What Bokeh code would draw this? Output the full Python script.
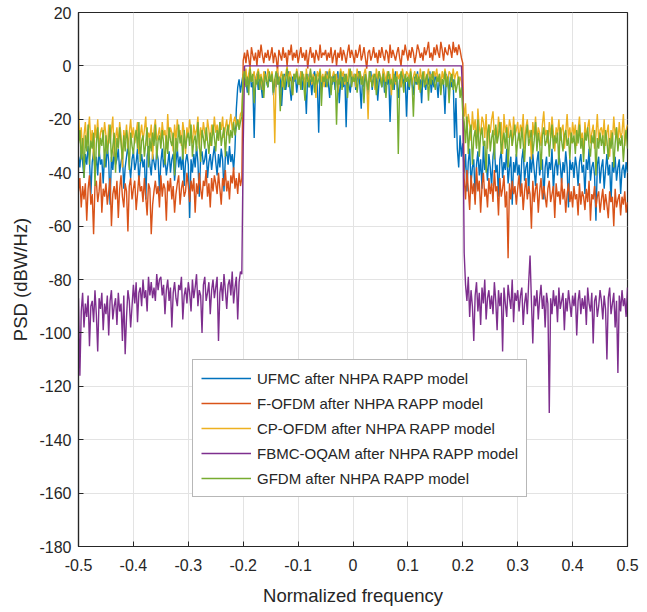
import numpy as np
from bokeh.plotting import figure
from bokeh.models import Range1d, FixedTicker, Legend, LegendItem
from bokeh.embed import file_html
from bokeh.resources import INLINE

# ---------------- data ----------------
# frequency grid: step 0.0025 -> 120 points left of the band, 161 in band, 120 right
freq = np.round(np.linspace(-0.5, 0.5, 401), 5)

x_ticks = [-0.5, -0.4, -0.3, -0.2, -0.1, 0, 0.1, 0.2, 0.3, 0.4, 0.5]
x_tick_labels = ["-0.5", "-0.4", "-0.3", "-0.2", "-0.1", "0", "0.1", "0.2", "0.3", "0.4", "0.5"]
y_ticks = [-180, -160, -140, -120, -100, -80, -60, -40, -20, 0, 20]
y_tick_labels = ["-180", "-160", "-140", "-120", "-100", "-80", "-60", "-40", "-20", "0", "20"]

series_names = [
    "UFMC after NHPA RAPP model",
    "F-OFDM after NHPA RAPP model",
    "CP-OFDM after NHPA RAPP model",
    "FBMC-OQAM after NHPA RAPP model",
    "GFDM after NHPA RAPP model",
]
series_colors = ["#0072BD", "#D95319", "#EDB120", "#7E2F8E", "#77AC30"]

# ---- UFMC (dB) ----
ufmc_left = [
    -34, -38, -31, -36, -42,  -33, -37, -30, -35, -48,  -36, -32, -39, -34, -41,  -31, -37, -35, -44, -33,
    -38, -30, -36, -52, -34,  -39, -32, -37, -35, -31,  -40, -36, -33, -46, -38,  -34, -30, -37, -42, -35,
    -32, -39, -36, -31, -44,  -37, -33, -38, -35, -50,  -34, -30, -37, -41, -33,  -36, -39, -32, -35, -47,
    -36, -31, -38, -34, -41,  -37, -32, -40, -35, -33,  -43, -36, -31, -38, -34,  -39, -32, -45, -36, -33,
    -37, -57, -35, -40, -33,  -38, -30, -36, -49, -34,  -32, -37, -35, -31, -42,  -36, -33, -39, -34, -30,
    -36, -41, -33, -38, -31,  -35, -47, -34, -32, -37,  -30, -36, -33, -39, -31,  -16, -8, -5, -10, -6,
]
ufmc_band = [
    -3, -7, -5, -10, -4,  -2, -8, -6, -27, -5,  -3, -9, -4, -7, -12,  -5, -2, -6, -8, -4,
    -6, -3, -11, -5, -8,  -2, -7, -4, -15, -6,  -3, -9, -5, -2, -8,  -13, -4, -6, -3, -10,
    -5, -7, -2, -9, -4,  -6, -18, -3, -8, -5,  -11, -4, -2, -7, -6,  -25, -3, -9, -5, -4,
    -8, -2, -6, -12, -4,  -7, -3, -9, -5, -2,  -14, -6, -4, -8, -3,  -23, -5, -7, -10, -4,
    -6, -3, -9, -5, -2,  -7, -16, -4, -8, -3,  -6, -11, -5, -2, -9,  -4, -7, -3, -13, -6,
    -4, -8, -2, -10, -5,  -7, -3, -21, -6, -4,  -9, -2, -6, -12, -5,  -8, -3, -7, -4, -19,
    -5, -9, -3, -6, -11,  -4, -7, -2, -8, -5,  -14, -3, -6, -9, -4,  -7, -2, -10, -5, -8,
    -3, -6, -12, -4, -9,  -5, -7, -18, -3, -6,  -10, -4, -8, -5, -27,  -12, -31, -38, -26, -34,
    -29,
]
ufmc_right = [
    -40, -33, -47, -36, -31,  -44, -38, -35, -50, -37,  -32, -41, -35, -46, -30,  -39, -36, -43, -33, -38,
    -45, -34, -30, -40, -37,  -49, -35, -32, -42, -36,  -39, -31, -44, -38, -34,  -52, -36, -40, -33, -41,
    -37, -46, -35, -31, -43,  -38, -36, -48, -34, -40,  -33, -39, -45, -36, -32,  -41, -37, -35, -50, -38,
    -34, -42, -36, -39, -31,  -47, -38, -35, -41, -33,  -37, -44, -36, -40, -32,  -38, -53, -35, -39, -36,
    -42, -34, -38, -45, -36,  -33, -40, -37, -48, -35,  -39, -31, -43, -38, -36,  -41, -58, -37, -34, -44,
    -38, -35, -46, -39, -33,  -41, -37, -51, -36, -40,  -34, -43, -38, -35, -48,  -39, -37, -42, -36, -40,
]

# ---- F-OFDM (dB) ----
fofdm_left = [
    -47, -42, -53, -45, -50,  -44, -58, -46, -41, -52,  -48, -63, -45, -43, -51,  -47, -40, -55, -46, -49,
    -44, -52, -47, -42, -60,  -48, -45, -50, -43, -57,  -46, -41, -49, -53, -44,  -47, -62, -45, -42, -50,
    -46, -43, -54, -48, -41,  -47, -45, -51, -42, -49,  -56, -44, -46, -63, -52,  -47, -43, -48, -45, -53,
    -41, -49, -44, -46, -58,  -43, -47, -42, -50, -45,  -55, -48, -44, -41, -52,  -46, -43, -49, -47, -40,
    -45, -51, -43, -47, -42,  -55, -44, -48, -40, -46,  -50, -43, -45, -39, -49,  -44, -53, -42, -47, -41,
    -44, -48, -40, -46, -52,  -42, -45, -39, -47, -43,  -50, -41, -44, -38, -46,  -42, -48, -40, -45, -42,
]
fofdm_band = [
    2, 5, 1, 6, 3,  -1, 7, 4, 2, 5,  0, 6, 3, 8, 4,  1, 5, 3, 6, 2,
    4, 7, 1, 5, 3,  -2, 6, 4, 2, 7,  3, 5, 0, 6, 4,  8, 2, 5, 3, 6,
    1, 4, 7, 3, 5,  2, 6, -1, 4, 7,  3, 5, 1, 6, 4,  2, 8, 3, 5, 4,
    6, 2, 5, 3, 7,  1, 4, 6, 0, 5,  3, 7, 2, 6, 4,  1, 5, 8, 3, 6,
    4, 1, 6, 3, 5,  8, 2, 4, 7, 3,  -1, 5, 6, 2, 4,  7, 3, 5, 1, 6,
    3, 7, 4, 2, 6,  5, 1, 8, 3, 6,  4, 2, 5, 7, 3,  0, 6, 4, 8, 5,
    2, 6, 3, 7, 5,  1, 4, 8, 6, 3,  5, 2, 7, 4, 6,  9, 3, 5, 2, 7,
    4, 8, 5, 3, 9,  6, 2, 7, 5, 4,  8, 6, 3, 9, 5,  7, 4, 8, 6, 3,
    1,
]
fofdm_right = [
    -42, -50, -39, -46, -54,  -41, -48, -44, -52, -38,  -47, -43, -55, -45, -40,  -49, -46, -53, -42, -48,
    -44, -51, -39, -47, -45,  -56, -42, -49, -46, -41,  -53, -47, -72, -44, -50,  -43, -48, -45, -52, -46,
    -41, -49, -44, -54, -47,  -42, -50, -45, -48, -61,  -43, -51, -46, -44, -55,  -47, -42, -50, -45, -49,
    -53, -46, -43, -51, -48,  -45, -57, -44, -49, -47,  -52, -42, -50, -46, -55,  -48, -44, -51, -47, -53,
    -45, -50, -48, -56, -44,  -52, -47, -49, -54, -46,  -51, -43, -58, -48, -50,  -45, -53, -49, -47, -55,
    -50, -46, -54, -48, -52,  -57, -47, -51, -49, -60,  -46, -53, -50, -48, -56,  -49, -52, -47, -55, -51,
]

# ---- CP-OFDM (dB) ----
cpofdm_left = [
    -17, -28, -23, -33, -26,  -21, -30, -25, -19, -29,  -24, -35, -22, -27, -20,  -31, -25, -23, -28, -21,
    -26, -32, -22, -29, -24,  -19, -34, -27, -23, -30,  -21, -26, -38, -24, -28,  -22, -31, -25, -20, -27,
    -23, -29, -25, -21, -33,  -26, -22, -28, -24, -19,  -30, -25, -27, -22, -35,  -24, -20, -28, -26, -23,
    -29, -21, -26, -24, -31,  -18, -27, -23, -25, -32,  -22, -28, -20, -26, -24,  -30, -21, -25, -33, -23,
    -27, -20, -25, -29, -22,  -26, -24, -19, -31, -23,  -27, -21, -25, -28, -20,  -24, -30, -22, -26, -19,
    -25, -22, -28, -21, -24,  -19, -27, -23, -20, -26,  -22, -18, -24, -21, -19,  -23, -20, -22, -18, -17,
]
cpofdm_band = [
    -2, -5, -1, -7, -3,  0, -6, -4, -2, -8,  -3, -1, -5, -3, -9,  -2, -4, -6, -1, -3,
    -5, -2, -7, -29, -3,  -1, -6, -4, -2, -8,  -5, -3, 0, -6, -2,  -4, -11, -3, -5, -1,
    -4, -7, -2, -5, -3,  -9, -1, -6, -4, -2,  -7, -3, -5, -12, -2,  -4, -1, -6, -3, -8,
    -2, -5, -3, -1, -7,  -4, -2, -6, -3, -10,  -5, -1, -4, -2, -7,  -3, -6, -1, -4, -2,
    -6, -3, -8, -1, -5,  -2, -4, -7, -3, -1,  -5, -20, -2, -6, -4,  -3, -9, -1, -5, -2,
    -4, -7, -1, -3, -6,  -2, -5, -3, -11, -1,  -4, -7, -2, -5, -3,  -8, -1, -4, -6, -2,
    -3, -5, -1, -7, -4,  -2, -6, -3, -9, -1,  -5, -3, -2, -7, -4,  -1, -6, -3, -5, -2,
    -4, -1, -6, -3, -8,  -2, -5, -1, -4, -7,  -2, -3, -6, -1, -5,  -3, -2, -7, -4, -6,
    -12,
]
cpofdm_right = [
    -19, -14, -25, -18, -22,  -28, -17, -24, -20, -30,  -16, -23, -26, -19, -21,  -27, -18, -31, -22, -25,
    -20, -17, -26, -23, -29,  -19, -24, -21, -33, -18,  -25, -22, -27, -20, -23,  -30, -19, -26, -24, -21,
    -28, -22, -25, -18, -31,  -23, -20, -27, -24, -35,  -21, -26, -19, -28, -23,  -25, -30, -22, -17, -26,
    -24, -29, -21, -27, -19,  -25, -32, -23, -26, -20,  -28, -24, -22, -31, -25,  -18, -27, -23, -29, -21,
    -26, -22, -30, -24, -19,  -28, -25, -33, -21, -27,  -23, -20, -29, -25, -22,  -31, -26, -18, -28, -24,
    -23, -27, -20, -30, -25,  -22, -34, -24, -28, -19,  -26, -23, -29, -21, -27,  -25, -18, -30, -24, -22,
]

# ---- FBMC-OQAM (dB) ----
fbmc_left = [
    -87, -116, -92, -85, -98,  -89, -94, -86, -105, -90,  -88, -96, -84, -93, -107,  -87, -91, -85, -99, -89,
    -93, -86, -101, -88, -84,  -95, -90, -87, -97, -85,  -92, -89, -103, -86, -108,  -94, -84, -88, -98, -90,
    -82, -89, -81, -96, -85,  -83, -90, -80, -87, -84,  -92, -79, -86, -81, -87,  -83, -88, -78, -84, -80,
    -79, -86, -82, -93, -84,  -80, -88, -83, -98, -85,  -81, -87, -90, -82, -84,  -79, -95, -86, -83, -89,
    -81, -85, -92, -80, -87,  -83, -78, -90, -84, -86,  -100, -82, -79, -88, -85,  -81, -93, -84, -80, -87,
    -83, -79, -103, -85, -81,  -88, -78, -84, -91, -82,  -80, -86, -77, -89, -83,  -79, -95, -81, -77, -78,
]
fbmc_band = [-30] + [0] * 159 + [-12]
fbmc_right = [
    -70, -82, -88, -79, -94,  -84, -90, -103, -86, -81,  -92, -85, -97, -83, -89,  -80, -95, -87, -84, -91,
    -86, -93, -81, -88, -99,  -84, -90, -85, -107, -83,  -89, -94, -82, -87, -91,  -80, -96, -85, -88, -84,
    -92, -86, -83, -97, -89,  -85, -93, -81, -71, -88,  -104, -86, -90, -84, -95,  -87, -82, -91, -86, -98,
    -85, -89, -130, -87, -93,  -84, -90, -86, -96, -83,  -91, -88, -85, -99, -87,  -92, -84, -89, -94, -86,
    -90, -85, -101, -88, -84,  -93, -87, -91, -86, -97,  -83, -89, -92, -85, -104,  -88, -86, -94, -90, -84,
    -88, -95, -86, -91, -110,  -87, -83, -93, -89, -85,  -98, -88, -115, -86, -92,  -84, -90, -87, -94, -83,
]

# ---- GFDM (dB) ----
gfdm_left = [
    -29, -24, -35, -27, -42,  -26, -32, -22, -37, -28,  -31, -25, -45, -29, -23,  -34, -27, -30, -24, -38,
    -26, -33, -28, -22, -36,  -30, -25, -40, -27, -31,  -23, -29, -35, -26, -32,  -24, -28, -39, -25, -30,
    -33, -27, -24, -31, -21,  -36, -28, -26, -34, -29,  -23, -38, -27, -32, -25,  -30, -22, -35, -28, -26,
    -31, -24, -29, -37, -26,  -33, -23, -28, -30, -25,  -41, -27, -32, -22, -29,  -26, -35, -24, -31, -27,
    -25, -30, -22, -34, -28,  -26, -32, -21, -29, -36,  -24, -27, -31, -23, -28,  -33, -25, -30, -22, -27,
    -32, -24, -28, -21, -30,  -26, -23, -34, -25, -22,  -29, -24, -27, -21, -26,  -23, -20, -24, -21, -19,
]
gfdm_band = [
    -5, -2, -8, -4, -11,  -1, -6, -3, -14, -5,  -7, -2, -9, -4, -6,  -12, -3, -5, -8, -2,
    -6, -3, -10, -5, -2,  -7, -4, -17, -6, -3,  -9, -5, -1, -8, -4,  -6, -11, -3, -5, -2,
    -7, -4, -9, -2, -6,  -13, -3, -5, -8, -1,  -6, -4, -10, -3, -7,  -5, -2, -15, -4, -6,
    -3, -8, -5, -2, -11,  -4, -6, -3, -22, -5,  -7, -2, -9, -4, -6,  -3, -12, -5, -1, -8,
    -4, -6, -3, -10, -5,  -2, -7, -4, -14, -3,  -6, -9, -2, -5, -8,  -4, -3, -11, -6, -2,
    -5, -8, -3, -6, -12,  -4, -2, -7, -5, -9,  -3, -6, -4, -33, -7,  -2, -5, -10, -3, -6,
    -4, -8, -2, -6, -19,  -5, -3, -7, -4, -10,  -6, -2, -8, -5, -3,  -13, -4, -7, -2, -6,
    -9, -4, -6, -3, -11,  -5, -7, -2, -8, -4,  -14, -6, -3, -9, -5,  -10, -7, -4, -12, -8,
    -18,
]
gfdm_right = [
    -21, -29, -19, -33, -25,  -22, -37, -27, -24, -31,  -20, -34, -26, -23, -30,  -28, -40, -25, -22, -32,
    -27, -24, -35, -22, -29,  -26, -21, -33, -28, -25,  -31, -23, -38, -27, -24,  -30, -26, -22, -34, -28,
    -25, -31, -23, -29, -36,  -26, -22, -30, -27, -24,  -33, -28, -21, -32, -25,  -29, -39, -26, -23, -30,
    -28, -24, -34, -27, -22,  -31, -26, -29, -25, -37,  -23, -28, -32, -26, -24,  -30, -27, -35, -25, -29,
    -26, -33, -24, -29, -22,  -31, -27, -36, -25, -28,  -23, -30, -34, -26, -29,  -24, -41, -27, -31, -25,
    -30, -26, -33, -24, -28,  -35, -27, -31, -25, -38,  -29, -23, -32, -27, -30,  -26, -36, -28, -24, -31,
]

series_values = [
    ufmc_left + ufmc_band + ufmc_right,
    fofdm_left + fofdm_band + fofdm_right,
    cpofdm_left + cpofdm_band + cpofdm_right,
    fbmc_left + fbmc_band + fbmc_right,
    gfdm_left + gfdm_band + gfdm_right,
]

# ---------------- figure ----------------
FONT = "Liberation Sans"
TXT = "#262626"

p = figure(width=647, height=612, output_backend="svg", toolbar_location=None,
           x_range=Range1d(-0.5, 0.5), y_range=Range1d(-180, 20),
           min_border_left=78, min_border_right=20, min_border_top=12,
           min_border_bottom=66)
p.background_fill_color = "white"
p.border_fill_color = "white"
p.outline_line_color = TXT
p.outline_line_width = 1.2

for vals, col in zip(series_values, series_colors):
    n = min(len(freq), len(vals))
    p.line(freq[:n], vals[:n], line_color=col, line_width=1.4)

# legend-key renderers: a single undefined point each (nothing drawn in the plot)
legend_renderers = []
for col in series_colors:
    lr = p.line(x=[np.nan], y=[np.nan], line_color=col, line_width=1.5)
    legend_renderers.append(lr)

p.xaxis.ticker = FixedTicker(ticks=x_ticks)
p.yaxis.ticker = FixedTicker(ticks=y_ticks)
p.xaxis.major_label_overrides = {t: l for t, l in zip(x_ticks, x_tick_labels)}
p.yaxis.major_label_overrides = {t: l for t, l in zip(y_ticks, y_tick_labels)}

for ax in (p.xaxis[0], p.yaxis[0]):
    ax.axis_line_color = TXT
    ax.axis_line_width = 1.2
    ax.major_tick_line_color = TXT
    ax.major_tick_in = 5
    ax.major_tick_out = 0
    ax.minor_tick_line_color = None
    ax.major_label_text_font = FONT
    ax.major_label_text_font_size = "16px"
    ax.major_label_text_color = TXT
    ax.axis_label_text_font = FONT
    ax.axis_label_text_font_size = "18.5px"
    ax.axis_label_text_font_style = "normal"
    ax.axis_label_text_color = TXT

p.xaxis.axis_label = "Normalized frequency"
p.yaxis.axis_label = "PSD (dBW/Hz)"
p.xaxis.major_label_standoff = 12
p.xaxis.axis_label_standoff = 11
p.yaxis.major_label_standoff = 7
p.yaxis.axis_label_standoff = 5

p.xgrid.grid_line_color = "#e3e3e3"
p.ygrid.grid_line_color = "#e3e3e3"

legend = Legend(
    items=[LegendItem(label=n, renderers=[r], index=0)
           for n, r in zip(series_names, legend_renderers)],
    location=(114, 49),
    label_text_font=FONT,
    label_text_font_size="15px",
    label_text_color=TXT,
    glyph_width=50,
    glyph_height=20,
    label_height=20,
    label_standoff=6,
    spacing=5,
    padding=8,
    margin=0,
    border_line_color="#707070",
    border_line_width=1.2,
    background_fill_color="white",
    background_fill_alpha=1.0,
)
p.add_layout(legend)

open("out.html", "w").write(file_html(p, INLINE))
